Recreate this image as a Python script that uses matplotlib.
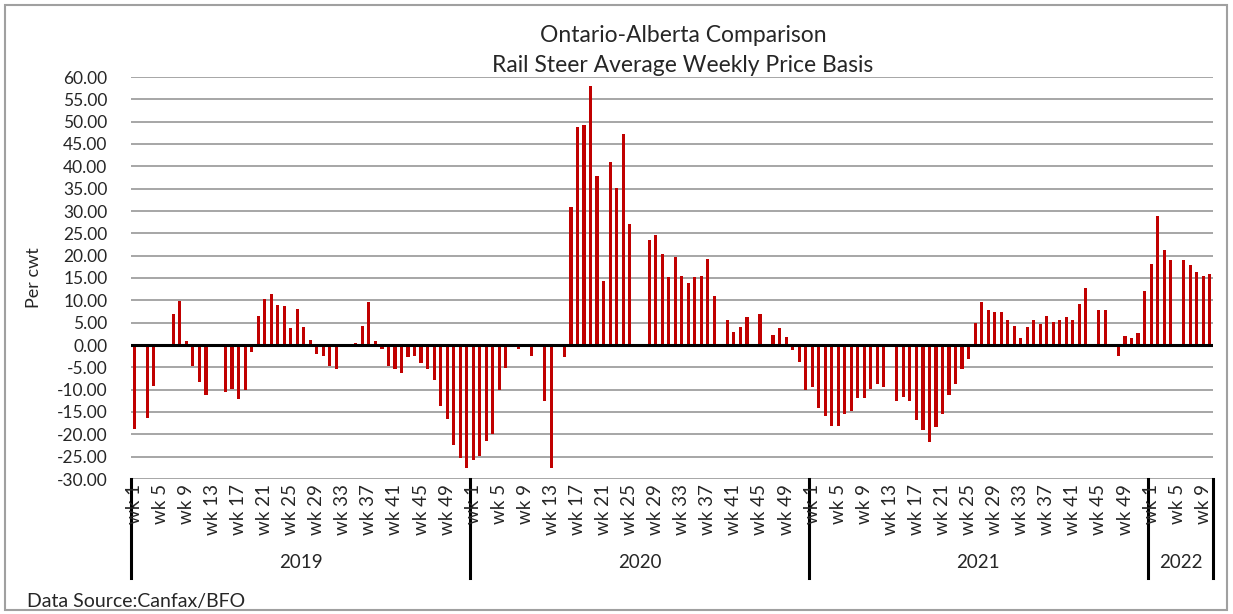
"""Ontario-Alberta rail steer weekly price basis, 2019 to early 2022.

Bar chart with a two-level category axis (week within year), saved to out.png.
"""

from __future__ import annotations

import matplotlib

matplotlib.use("Agg")
import matplotlib.pyplot as plt
import numpy as np
from matplotlib.patches import Rectangle

nan = np.nan

YEARS = ["2019", "2020", "2021", "2022"]

# weekly basis values, $/cwt; nan = no quote that week
BASIS_2019 = [
    -18.7, nan, -16.3, -9.2, nan, nan, 7.0, 9.8, 1.0, -4.8,
    -8.3, -11.3, nan, nan, -10.6, -9.9, -12.2, -10.1, -1.5, 6.6,
    10.2, 11.4, 9.0, 8.8, 3.7, 8.1, 4.0, 1.1, -2.0, -2.5,
    -4.8, -5.4, nan, nan, 0.5, 4.2, 9.7, 1.0, -0.8, -4.8,
    -5.4, -6.2, -2.7, -2.5, -4.1, -5.4, -7.8, -13.6, -16.6, -22.4,
    -25.4, -27.5,
]
BASIS_2020 = [
    -25.7, -24.8, -21.5, -19.9, -10.1, -5.2, nan, -1.0, nan, -2.4,
    nan, -12.6, -27.5, nan, -2.7, 31.0, 48.7, 49.3, 57.9, 37.8,
    14.4, 41.0, 35.1, 47.2, 27.2, nan, nan, 23.6, 24.6, 20.4,
    15.2, 19.7, 15.5, 13.9, 15.2, 15.5, 19.2, 11.0, nan, 5.7,
    2.9, 4.1, 6.2, nan, 6.9, nan, 2.2, 3.7, 1.9, -1.2,
    -3.7, -10.0,
]
BASIS_2021 = [
    -9.3, -14.1, -15.9, -18.1, -18.1, -15.5, -14.8, -11.8, -11.8, -9.8,
    -8.7, -9.3, nan, -12.5, -11.6, -12.5, -16.9, -19.0, -21.8, -18.4,
    -15.5, -11.3, -8.8, -5.3, -3.2, 5.0, 9.7, 7.8, 7.3, 7.3,
    5.5, 4.3, 1.6, 4.1, 5.7, 4.6, 6.4, 5.1, 5.6, 6.2,
    5.6, 9.2, 12.7, nan, 7.8, 7.8, nan, -2.5, 2.0, 1.6,
    2.7, 12.0,
]
BASIS_2022 = [18.1, 28.8, 21.3, 19.0, nan, 19.0, 17.8, 16.3, 15.4, 16.0]

Y_TICKS = np.arange(-30, 61, 5)

W, H = 1233, 614
FONT = ["Lato", "DejaVu Sans"]
RED = "#C00000"
GRID = "#A6A6A6"
TEXT = "#262626"


def main() -> None:
    plt.rcParams["font.family"] = FONT
    series = [BASIS_2019, BASIS_2020, BASIS_2021, BASIS_2022]
    values = np.concatenate([np.asarray(s, dtype=float) for s in series])
    x = np.arange(len(values))

    fig = plt.figure(figsize=(W / 100, H / 100), dpi=100)
    left, right, top, bottom = 131, 1213, 77, 479
    ax = fig.add_axes([left / W, 1 - bottom / H, (right - left) / W, (bottom - top) / H])

    ax.bar(x, np.nan_to_num(values), width=0.48, color=RED, edgecolor="none", zorder=3)
    ax.axhline(0, color="black", linewidth=2.2, zorder=4)

    ax.set_xlim(-0.5, len(values) - 0.5)
    ax.set_ylim(-30, 60)
    ax.set_yticks(Y_TICKS)
    ax.set_yticklabels([f"{v:.2f}" for v in Y_TICKS], fontsize=12.5, color=TEXT)
    ax.tick_params(axis="y", length=0, pad=17)
    ax.set_xticks([])
    ax.grid(axis="y", color=GRID, linewidth=1.4, zorder=0)
    for side in ["top", "right", "left", "bottom"]:
        ax.spines[side].set_visible(False)
    ax.set_ylabel("Per cwt", fontsize=13, color=TEXT)
    ax.yaxis.set_label_coords(-89 / (right - left), 0.5)

    # two-level category axis: week labels, then year labels with dividers
    trans = ax.get_xaxis_transform()
    span = bottom - top
    start = 0
    bounds = [0]
    for year, s in zip(YEARS, series):
        n = len(s)
        for wk in range(1, n + 1, 4):
            ax.text(start + wk - 1, -5 / span, f"wk {wk}", rotation=90, ha="center",
                    va="top", fontsize=13.5, color=TEXT, transform=trans, clip_on=False)
        ax.text(start + n / 2 - 0.5, -84 / span, year, ha="center", va="center",
                fontsize=13.5, color=TEXT, transform=trans, clip_on=False)
        start += n
        bounds.append(start)
    for b in bounds:
        ax.plot([b - 0.5, b - 0.5], [0, -99 / span], color="black", linewidth=2.2,
                transform=trans, clip_on=False)

    fig.text(683 / W, 1 - 35 / H, "Ontario-Alberta Comparison", ha="center", va="center",
             fontsize=16.5, color=TEXT)
    fig.text(683 / W, 1 - 65 / H, "Rail Steer Average Weekly Price Basis", ha="center",
             va="center", fontsize=16.5, color=TEXT)
    fig.text(27 / W, 1 - 601 / H, "Data Source:Canfax/BFO", ha="left", va="center",
             fontsize=14, color=TEXT)

    fig.patches.append(Rectangle((5 / W, 4 / H), 1222 / W, 605 / H, transform=fig.transFigure,
                                 fill=False, edgecolor="#A0A0A0", linewidth=1.5))
    fig.savefig("out.png", dpi=100)
    plt.close(fig)


if __name__ == "__main__":
    main()
